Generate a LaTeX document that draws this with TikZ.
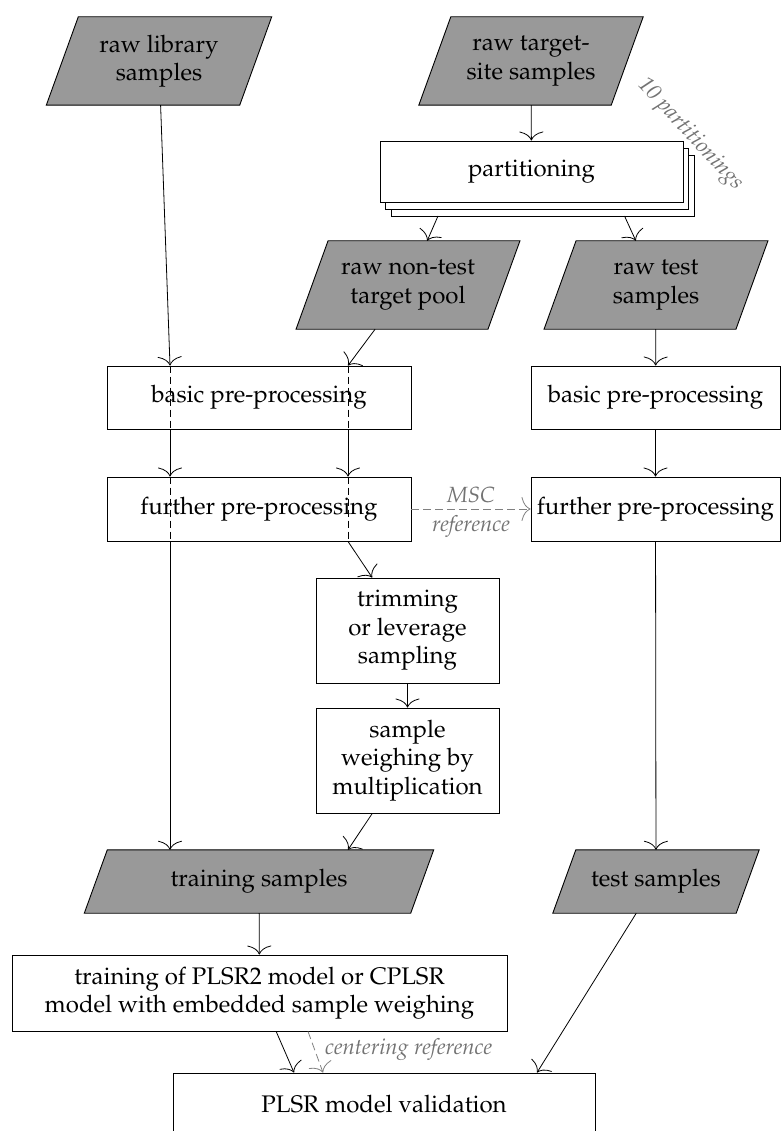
\documentclass[tikz,border=0pt]{standalone}
\usepackage[T1]{fontenc}
\usepackage{mathpazo}
\usetikzlibrary{arrows.meta,shadows,backgrounds,calc}
\begin{document}
\begin{tikzpicture}[x=1pt,y=-1pt,
  base/.style={font=\fontsize{24}{28.5}\selectfont, align=center, inner sep=0pt},
  box/.style={base, draw, fill=white, line width=0.9pt},
  para/.style={base},
  pfill/.style={fill=black!40, draw=black, line width=0.9pt},
  arr/.style={line width=0.8pt, -{Computer Modern Rightarrow[length=9pt,width=24pt]}},
  dsh/.style={line width=0.8pt, dash pattern=on 7pt off 4pt},
  garr/.style={line width=0.8pt, draw=black!50, dash pattern=on 8pt off 4pt, -{Computer Modern Rightarrow[length=9pt,width=24pt]}},
  note/.style={text=black!55, font=\fontsize{22}{26}\selectfont\itshape, inner sep=1pt}
]
\useasboundingbox (0,0) rectangle (781,1131);

% input parallelograms (text nodes; shapes drawn on background)
\node[para, minimum width=193pt, minimum height=88pt] (rls) at (159,61) {raw library\\samples};
\node[para, minimum width=192pt, minimum height=88pt] (rts) at (531,61) {raw target-\\site samples};
\node[box, minimum width=303pt, minimum height=61pt,
  double copy shadow={shadow xshift=5.5pt, shadow yshift=-7pt, fill=white, draw=black, line width=0.9pt}] (part) at (531.5,171.5) {partitioning};
\node[note, rotate=-47] (np) at (690,135) {10 partitionings};
\node[para, minimum width=191.5pt, minimum height=88pt] (rnt) at (408,285) {raw non-test\\target pool};
\node[para, minimum width=191.5pt, minimum height=88pt] (rt) at (656,285) {raw test\\samples};

\node[box, minimum width=304pt, minimum height=63pt] (bl) at (259,397.5) {basic pre-processing};
\node[box, minimum width=304pt, minimum height=64pt] (fl) at (259,509) {further pre-processing};
\node[box, minimum width=249pt, minimum height=63pt] (br) at (655.5,397.5) {basic pre-processing};
\node[box, minimum width=249pt, minimum height=64pt] (fr) at (655.5,509) {further pre-processing};

\node[box, minimum width=183pt, minimum height=105pt] (trim) at (407.5,630.5) {trimming\\or leverage\\sampling};
\node[box, minimum width=183pt, minimum height=105pt] (weigh) at (407.5,760.5) {sample\\weighing by\\multiplication};

\node[para, minimum width=326pt, minimum height=63pt] (ts) at (259,881.5) {training samples};
\node[para, minimum width=183pt, minimum height=63pt] (tsm) at (656,881.5) {test samples};

\node[box, minimum width=495pt, minimum height=76pt] (tb) at (259.5,993) {training of PLSR2 model or CPLSR\\model with embedded sample weighing};
\node[box, minimum width=422pt, minimum height=63pt] (val) at (384,1104.5) {PLSR model validation};

% parallelogram shapes
\begin{scope}[on background layer]
\foreach \n/\o in {rls/16pt, rts/16pt, rnt/16pt, rt/16pt, ts/11.5pt, tsm/11.5pt}{
  \filldraw[pfill] ([xshift=\o]\n.north west) -- ([xshift=\o]\n.north east)
    -- ([xshift=-\o]\n.south east) -- ([xshift=-\o]\n.south west) -- cycle;
}
\end{scope}

% helper coordinates
\coordinate (xL) at (170,0);
\coordinate (xR) at (348,0);
\coordinate (pL) at (438,216);
\coordinate (pR) at (624.5,216);
\coordinate (xv1) at (294,0);
\coordinate (xc) at (308,0);
\coordinate (xv2) at (323,0);
\coordinate (xv3) at (537,0);

% connectors
\draw[arr] (rts) -- (part);
\draw[arr] (pL) -- (rnt);
\draw[arr] (pR) -- (rt);

\draw[arr] (rls) -- (bl.north -| xL);
\draw[dsh] (bl.north -| xL) -- (bl.south -| xL);
\draw[arr] (bl.south -| xL) -- (fl.north -| xL);
\draw[dsh] (fl.north -| xL) -- (fl.south -| xL);
\draw[arr] (fl.south -| xL) -- (ts.north -| xL);

\draw[arr] (rnt) -- (bl.north -| xR);
\draw[dsh] (bl.north -| xR) -- (bl.south -| xR);
\draw[arr] (bl.south -| xR) -- (fl.north -| xR);
\draw[dsh] (fl.north -| xR) -- (fl.south -| xR);
\draw[arr] (fl.south -| xR) -- (trim);
\draw[arr] (trim) -- (weigh);
\draw[arr] (weigh) -- (ts.north -| xR);

\draw[arr] (rt) -- (br);
\draw[arr] (br) -- (fr);
\draw[arr] (fr) -- (tsm);

\draw[garr] (fl) -- node[note, above=5pt] {MSC} node[note, below=5pt] {reference} (fr);

\draw[arr] (ts) -- (tb);
\draw[arr] (tb) -- (val.north -| xv1);
\draw[garr] (tb.south -| xc) -- node[note, anchor=west, pos=0.45, xshift=9pt] {centering reference} (val.north -| xv2);
\draw[arr] (tsm) -- (val.north -| xv3);
\end{tikzpicture}
\end{document}
